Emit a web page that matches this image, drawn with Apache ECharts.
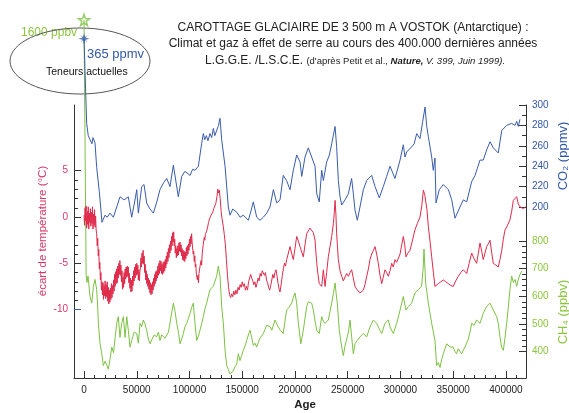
<!DOCTYPE html>
<html>
<head>
<meta charset="utf-8">
<script src="https://cdn.jsdelivr.net/npm/echarts@6/dist/echarts.min.js"></script>
<style>
  html, body { margin: 0; padding: 0; background: #fff; }
  #chart { width: 569px; height: 413px; }
</style>
</head>
<body>
<div id="chart"></div>
<script>
// Vostok ice core: age (years before present) vs temperature anomaly, CO2 and CH4

// Temperature anomaly (°C)
const temperature = [
  [0,0.2],[500,-0.9],[1000,1.0],[1500,-0.4],[2000,1.2],[2500,-1.2],[3000,0.6],[3500,-0.8],[4000,1.1],[4500,-1.3],
  [5000,0.4],[5500,-0.6],[6000,0.9],[6500,-1.0],[7000,0.5],[7500,-0.7],[8000,1.1],[8500,-1.3],[9000,0.3],[9500,-0.9],
  [10000,0.8],[10500,-1.1],[11000,0.1],[11500,-1.4],[12000,-1.8],[12500,-3.1],[13000,-2.3],[13500,-4.2],[14000,-3.5],[14500,-5.6],
  [15000,-4.9],[15500,-6.8],[16000,-6.0],[16500,-7.9],[17000,-7.0],[17500,-8.4],[18000,-7.1],[18500,-8.9],[19000,-7.4],[19500,-8.5],
  [20000,-6.9],[20500,-8.8],[21000,-7.3],[21500,-8.6],[22000,-7.0],[22500,-9.1],[23000,-7.6],[23500,-9.4],[24000,-7.9],[24500,-9.2],
  [25000,-7.7],[25500,-8.9],[26000,-7.2],[26500,-8.7],[27000,-7.4],[27500,-8.3],[28000,-6.8],[28500,-8.0],[29000,-6.2],[29500,-7.5],
  [30000,-5.9],[30500,-7.2],[31000,-5.6],[31500,-7.1],[32000,-5.3],[32500,-6.6],[33000,-5.0],[33500,-6.2],[34000,-4.7],[34500,-6.3],
  [35000,-5.2],[35500,-7.0],[36000,-5.8],[36500,-7.8],[37000,-6.5],[37500,-7.6],[38000,-6.0],[38500,-7.2],[39000,-5.6],[39500,-6.7],
  [40000,-5.4],[40500,-6.5],[41000,-5.3],[41500,-6.4],[42000,-5.4],[42500,-7.1],[43000,-6.1],[43500,-7.7],[44000,-6.6],[44500,-8.1],
  [45000,-6.8],[45500,-8.0],[46000,-6.4],[46500,-7.4],[47000,-5.8],[47500,-6.9],[48000,-5.4],[48500,-6.6],[49000,-5.1],[49500,-6.3],
  [50000,-5.0],[50500,-6.2],[51000,-5.2],[51500,-6.8],[52000,-5.7],[52500,-6.9],[53000,-5.9],[53500,-5.4],[54000,-4.4],[54500,-5.4],
  [55000,-3.9],[55500,-5.0],[56000,-3.6],[56500,-5.1],[57000,-4.2],[57500,-6.0],[58000,-5.1],[58500,-6.8],[59000,-5.8],[59500,-7.2],
  [60000,-6.2],[60500,-7.5],[61000,-6.6],[61500,-7.8],[62000,-6.8],[62500,-8.2],[63000,-7.1],[63500,-8.4],[64000,-7.3],[64500,-8.3],
  [65000,-7.0],[65500,-7.9],[66000,-6.6],[66500,-7.5],[67000,-6.2],[67500,-7.2],[68000,-5.9],[68500,-6.9],[69000,-5.8],[69500,-6.6],
  [70000,-5.3],[70500,-6.3],[71000,-5.0],[71500,-6.1],[72000,-4.7],[72500,-5.8],[73000,-4.8],[73500,-6.1],[74000,-5.1],[74500,-6.2],
  [75000,-4.9],[75500,-6.0],[76000,-4.8],[76500,-5.8],[77000,-4.6],[77500,-5.5],[78000,-4.2],[78500,-5.1],[79000,-3.8],[79500,-4.8],
  [80000,-3.4],[80500,-4.4],[81000,-3.0],[81500,-3.9],[82000,-2.6],[82500,-3.6],[83000,-2.1],[83500,-3.1],[84000,-1.7],[84500,-2.7],
  [85000,-1.6],[85500,-3.1],[86000,-2.4],[86500,-3.9],[87000,-3.1],[87500,-4.4],[88000,-3.4],[88500,-4.2],[89000,-3.1],[89500,-4.1],
  [90000,-2.8],[90500,-3.7],[91000,-2.7],[91500,-3.8],[92000,-3.0],[92500,-4.2],[93000,-3.4],[93500,-4.6],[94000,-3.6],[94500,-4.7],
  [95000,-3.7],[95500,-4.8],[96000,-3.8],[96500,-4.5],[97000,-3.3],[97500,-4.2],[98000,-3.1],[98500,-4.0],[99000,-2.9],[99500,-3.6],
  [100000,-2.4],[100500,-3.2],[101000,-2.1],[101500,-2.9],[102000,-1.8],[102500,-2.8],[103000,-2.8],[103500,-4.0],[104000,-3.7],[104500,-4.8],
  [105000,-4.2],[105500,-5.4],[106000,-5.1],[106500,-6.2],[107000,-6.0],[107500,-6.8],[108000,-6.3],[108500,-7.1],[109000,-6.1],[109500,-6.1],
  [110000,-5.3],[110500,-5.5],[111000,-4.7],[111500,-5.2],[112000,-4.0],[112500,-4.0],[113000,-3.0],[113500,-3.1],[114000,-2.2],[114500,-2.5],
  [115000,-1.9],[115500,-2.0],[116000,-1.6],[117000,-1.2],[118000,-0.6],[119000,-0.2],[120000,0.1],[121000,0.3],[122000,0.5],[123000,0.9],
  [124000,0.7],[125000,1.5],[126000,2.2],[126800,3.0],[127500,2.6],[128300,2.9],[129000,2.1],[130000,0.6],[131000,-0.3],[132000,-1.0],
  [133000,-1.9],[134000,-3.0],[135000,-4.6],[136000,-6.3],[137000,-7.6],[138000,-8.4],[139000,-8.7],[140000,-8.3],[141000,-8.6],[142000,-8.0],
  [143000,-8.4],[144000,-7.9],[145000,-8.3],[146000,-7.6],[147000,-7.9],[148000,-7.3],[149000,-7.6],[150000,-7.0],[151000,-7.5],[152000,-7.2],
  [153000,-7.9],[154000,-7.5],[155000,-7.9],[156000,-7.0],[157000,-6.6],[158000,-6.2],[159000,-6.6],[160000,-6.9],[161000,-7.3],[162000,-7.0],
  [163000,-7.6],[164000,-7.2],[165000,-6.6],[166000,-6.9],[167000,-6.1],[168000,-6.4],[169000,-5.8],[170000,-5.7],[171000,-6.3],[172000,-6.0],
  [173000,-6.8],[174000,-7.1],[175000,-7.6],[176000,-7.9],[177000,-7.4],[178000,-6.8],[179000,-6.2],[180000,-6.6],[181000,-6.0],[182000,-5.7],
  [183000,-6.4],[184000,-7.2],[185000,-7.8],[185800,-8.1],[187000,-7.2],[188000,-6.3],[189000,-5.6],[190000,-5.0],[191000,-5.3],[192100,-4.6],
  [193500,-4.0],[195300,-3.2],[196800,-3.9],[198400,-4.6],[200000,-3.4],[201600,-2.1],[203200,-2.6],[204800,-3.2],[206400,-3.8],[207900,-4.3],
  [209500,-3.0],[211100,-1.8],[212600,-1.5],[214200,-1.2],[215800,-1.0],[217400,-1.7],[219000,-2.5],[220600,-5.0],[221800,-6.2],[223000,-7.2],
  [224200,-7.0],[225300,-7.5],[226900,-5.7],[228500,-7.5],[230000,-6.0],[231600,-4.3],[233200,-3.2],[234800,-2.1],[236400,-0.7],[237300,0.5],
  [238000,1.8],[238800,0.3],[239500,-1.8],[240300,-3.2],[241100,-4.6],[242700,-5.8],[244300,-6.4],[245800,-6.9],[247400,-6.8],[249000,-6.1],
  [250600,-6.4],[252200,-6.0],[253700,-5.7],[255300,-6.6],[256900,-7.5],[258500,-7.8],[260000,-8.0],[261600,-8.2],[263200,-8.4],[264800,-7.9],
  [266400,-7.3],[268000,-6.4],[269600,-5.6],[271100,-4.6],[272700,-4.0],[274300,-3.6],[275900,-3.2],[277400,-4.0],[279000,-5.0],[280600,-6.3],
  [282200,-7.2],[283700,-6.5],[285300,-5.7],[286900,-6.0],[288500,-6.4],[290100,-5.8],[291700,-5.0],[293200,-5.4],[294800,-4.6],[296400,-4.9],
  [297900,-5.0],[299600,-4.0],[301200,-3.0],[302700,-2.1],[304000,-3.0],[305200,-4.3],[307000,-3.9],[309000,-3.6],[311200,-2.6],[313700,-1.4],
  [316000,-0.7],[318500,0.0],[320200,1.2],[321700,2.9],[323000,2.4],[323900,2.2],[325100,0.8],[326400,-1.0],[328000,-2.6],[329600,-4.3],
  [331200,-6.0],[332700,-7.5],[334300,-7.4],[335900,-7.2],[338200,-7.0],[340600,-6.8],[343000,-7.0],[345400,-7.2],[347700,-7.4],[350000,-7.5],
  [352400,-6.9],[354800,-6.4],[357200,-6.0],[359600,-5.7],[361200,-5.8],[362800,-6.1],[365100,-5.0],[367500,-3.9],[369800,-4.5],[372200,-5.0],
  [373800,-3.9],[375400,-2.8],[377000,-3.7],[378500,-4.6],[380100,-3.9],[381700,-3.2],[383300,-2.9],[384900,-2.5],[386400,-3.8],[388000,-5.0],
  [390400,-5.2],[392700,-5.4],[394300,-4.6],[396000,-3.6],[397500,-2.4],[399100,-1.4],[401500,-0.9],[403800,-0.3],[405400,0.6],[407000,1.8],
  [408600,1.6],[410200,2.2],[411700,1.4],[413300,1.1],[415000,1.3],[416600,0.9],[418500,1.1]
];

// CO2 (ppmv); first point is the present-day value
const co2 = [
  [0,365],[2500,282],[4000,270],[5700,266],[7500,262],[8500,268],[10400,263],[12000,239],[14500,215],[17000,185],
  [19900,192],[22000,190],[24600,194],[27800,190],[31000,200],[34100,210],[38000,207],[42000,210],[45200,190],[48000,205],
  [50000,217],[51500,194],[54700,220],[56900,222],[59400,204],[62500,198],[65700,194],[69000,205],[72000,217],[75500,224],
  [78400,228],[81500,220],[84700,241],[89400,210],[92600,230],[95700,235],[100500,231],[103000,237],[105200,236],[108400,240],
  [111500,262],[113100,272],[114500,266],[116000,270],[117500,265],[119400,272],[121000,268],[122600,277],[124000,270],[125800,269],
  [127500,280],[128900,287],[130500,266],[133700,240],[136800,200],[138400,192],[141000,198],[144700,195],[148000,190],[151000,192],
  [155800,187],[158000,195],[160500,205],[163700,190],[166800,187],[170000,190],[173200,194],[176300,200],[179500,217],[182700,204],
  [185800,207],[188900,231],[192000,226],[195300,217],[198400,236],[201600,251],[204800,244],[206400,230],[209500,249],[212600,258],
  [215800,249],[219000,240],[220600,213],[223000,205],[225300,236],[226900,226],[230000,244],[232600,251],[234800,262],[236400,262],
  [238000,279],[239500,259],[241100,226],[242700,210],[244300,202],[247400,207],[250600,213],[253700,228],[255300,213],[256900,197],
  [259100,187],[261600,200],[264800,217],[268000,226],[272700,231],[275900,220],[279900,209],[283700,220],[286900,230],[290100,240],
  [294800,228],[299600,246],[302700,261],[304300,249],[305900,254],[310600,259],[313000,262],[315400,272],[318500,267],[321100,284],
  [323300,298],[324900,279],[326400,269],[329600,249],[331100,236],[332700,248],[333700,204],[336800,217],[340600,222],[345400,217],
  [348600,207],[351700,189],[356400,200],[359600,207],[362800,205],[367500,225],[370700,231],[375400,246],[378500,246],[381700,256],
  [384900,264],[388000,258],[392700,253],[396000,275],[400700,280],[405400,282],[408600,280],[410200,284],[411700,279],[413300,286]
];

// CH4 (ppbv); first point is the present-day value
const ch4 = [
  [0,1600],[2000,680],[2800,650],[3800,673],[5700,599],[7300,575],[8900,636],[10400,661],[12000,624],[13000,560],
  [13600,502],[15200,429],[16800,392],[18300,349],[20000,365],[21500,352],[23000,336],[24600,370],[26300,416],[28000,395],
  [29500,450],[31000,502],[32500,526],[34100,451],[35700,502],[37300,526],[38900,451],[40500,526],[42000,477],[43600,416],
  [45200,440],[47500,470],[50000,465],[51500,430],[53100,502],[54600,490],[56200,514],[57800,500],[59400,477],[61000,445],
  [62600,428],[64500,445],[66500,460],[68900,453],[70500,470],[72000,440],[73600,460],[75200,465],[76800,448],[78400,453],
  [80000,470],[81500,502],[83100,540],[84700,575],[86300,545],[87900,502],[89500,470],[91000,428],[92600,445],[94100,465],
  [95700,490],[97300,502],[99000,520],[100500,538],[102100,560],[103600,575],[105200,502],[106800,440],[108400,455],[109900,477],
  [111500,500],[113100,526],[114700,555],[116300,575],[117800,600],[119400,624],[121000,630],[122600,636],[124200,655],[125800,673],
  [127300,709],[128900,673],[130500,563],[132100,502],[133700,404],[135300,349],[136800,335],[138400,318],[140000,312],[141500,330],
  [143100,345],[144700,355],[146300,392],[147800,367],[149400,385],[151000,404],[152600,420],[154200,440],[155800,460],[157400,477],
  [159000,450],[160500,422],[162100,430],[163700,416],[165200,432],[166800,448],[168400,455],[170000,465],[171600,480],[173200,495],
  [174800,502],[176400,490],[178000,477],[179500,495],[181100,514],[182700,500],[184200,489],[186000,477],[187400,470],[188900,465],
  [190500,510],[192100,550],[194400,560],[196800,575],[198400,595],[200000,612],[201600,575],[203200,502],[205500,428],[207900,477],
  [209500,520],[211100,563],[212600,580],[214200,587],[215800,575],[217400,550],[219000,510],[220600,477],[223000,465],[225300,526],
  [226900,510],[228500,502],[230000,508],[231600,514],[233200,545],[234800,575],[236400,610],[238000,648],[239000,610],[240100,575],
  [242000,477],[244300,416],[245800,385],[247400,420],[249000,416],[250600,470],[252200,514],[253700,453],[255300,392],[256900,428],
  [259100,440],[261600,453],[264800,465],[268000,453],[271100,489],[274300,514],[277400,502],[280600,477],[282200,465],[285300,502],
  [288500,514],[290100,489],[293200,465],[296400,502],[298000,525],[299600,550],[302700,599],[305200,550],[307500,563],[310600,575],
  [313700,612],[316900,624],[320000,636],[321500,700],[322300,771],[323200,700],[323900,648],[326400,575],[329600,502],[332700,440],
  [334300,349],[335900,360],[337500,342],[339000,370],[340600,392],[342200,410],[343800,428],[346900,416],[350000,416],[351600,400],
  [353200,392],[354800,410],[356400,400],[358000,392],[359600,405],[361100,416],[362700,430],[364300,445],[365900,470],[367500,502],
  [369800,495],[372200,514],[375400,502],[378500,538],[381700,563],[384900,575],[388000,550],[391200,526],[392700,502],[394300,453],
  [395900,416],[397500,404],[399100,450],[400700,502],[402300,563],[403800,624],[405400,673],[407000,650],[408600,661],[410200,636],
  [411700,661],[413300,679],[414900,691]
];

// Present-day concentrations marked by stars
const presentCH4 = [[0, 1600]];
const presentCO2 = [[0, 365]];

// Axis ticks
const ageMajorTicks = [0, 50000, 100000, 150000, 200000, 250000, 300000, 350000, 400000];
const ageMinorTicks = [10000,20000,30000,40000,60000,70000,80000,90000,110000,120000,130000,140000,160000,170000,180000,190000,
  210000,220000,230000,240000,260000,270000,280000,290000,310000,320000,330000,340000,360000,370000,380000,390000,410000];
const tempMajorTicks = [-5, 0, 5];
const tempLabelTicks = [-10, -5, 0, 5];
const tempMinorTicks = [-9, -8, -7, -6, -4, -3, -2, -1, 1, 2, 3, 4];
const co2MajorTicks = [200, 220, 240, 260, 280, 300];
const co2MinorTicks = [210, 230, 250, 270, 290];
const ch4MajorTicks = [400, 500, 600, 700, 800];
const ch4MinorTicks = [420,440,460,480,520,540,560,580,620,640,660,680,720,740,760,780];

const FONT = 'Liberation Sans, Arial, Helvetica, sans-serif';
const RED = '#e02a4a', RED_TEXT = '#d7386a';
const BLUE = '#3a5cab', BLUE_TEXT = '#3358a8';
const GREEN = '#7dc142', GREEN_TEXT = '#8cc63f';
const AXIS = '#333';

const AGE_MIN = -9500, AGE_MAX = 419000;
const T_MIN = -17.39, T_MAX = 12.1;
const CO2_MIN = 32.4, CO2_MAX = 300;
const CH4_MIN = 304.1, CH4_MAX = 1292.3;

const starPath = 'path://M0,-10 L2.35,-3.24 L9.51,-3.09 L3.8,1.24 L5.88,8.09 L0,4 L-5.88,8.09 L-3.8,1.24 L-9.51,-3.09 L-2.35,-3.24 Z';
const burstPath = 'path://M0,-10 L2,-3 L7,-7 L3,-2 L10,0 L3,2 L7,7 L2,3 L0,10 L-2,3 L-7,7 L-3,2 L-10,0 L-3,-2 L-7,-7 L-2,-3 Z';

function xAxisDef(ticks, len, labels, showLine) {
  return {
    type: 'value', position: 'bottom', min: AGE_MIN, max: AGE_MAX,
    axisLine: { show: showLine, onZero: false, lineStyle: { color: AXIS, width: 1 } },
    axisTick: { show: true, inside: true, length: len, customValues: ticks, lineStyle: { color: AXIS } },
    axisLabel: labels ? { show: true, customValues: ticks, formatter: v => String(v), color: '#222',
      fontSize: 10, fontFamily: FONT, margin: 7 } : { show: false },
    splitLine: { show: false }
  };
}
function yAxisDef(pos, min, max, ticks, len, labels, labelColor, showLine, tickColor) {
  return {
    type: 'value', position: pos, min: min, max: max,
    axisLine: { show: showLine, onZero: false, lineStyle: { color: AXIS, width: 1 } },
    axisTick: { show: true, inside: true, length: len, customValues: ticks, lineStyle: { color: tickColor || AXIS } },
    axisLabel: labels ? { show: true, customValues: labels, formatter: v => String(v), color: labelColor,
      fontSize: 10, fontFamily: FONT, margin: 6 } : { show: false },
    splitLine: { show: false }
  };
}

const chart = echarts.init(document.getElementById('chart'), null, { renderer: 'canvas' });
chart.setOption({
  animation: false,
  backgroundColor: '#fff',
  grid: { left: 74, right: 43, top: 105, bottom: 35, containLabel: false },
  xAxis: [
    xAxisDef(ageMajorTicks, 7, true, true),
    xAxisDef(ageMinorTicks, 3, false, false)
  ],
  yAxis: [
    yAxisDef('left', T_MIN, T_MAX, tempMajorTicks, 7, tempLabelTicks, RED_TEXT, true),
    yAxisDef('left', T_MIN, T_MAX, tempMinorTicks, 4, null, null, false),
    yAxisDef('left', T_MIN, T_MAX, [-10], 7, null, null, false, BLUE),
    yAxisDef('right', CO2_MIN, CO2_MAX, co2MajorTicks, 7, co2MajorTicks, BLUE_TEXT, true),
    yAxisDef('right', CO2_MIN, CO2_MAX, co2MinorTicks, 4, null, null, false),
    yAxisDef('right', CH4_MIN, CH4_MAX, ch4MajorTicks, 7, ch4MajorTicks, GREEN_TEXT, false),
    yAxisDef('right', CH4_MIN, CH4_MAX, ch4MinorTicks, 4, null, null, false)
  ],
  series: [
    { type: 'line', name: 'CH4', data: ch4, xAxisIndex: 0, yAxisIndex: 5, showSymbol: false, clip: false,
      lineStyle: { color: GREEN, width: 1 }, itemStyle: { color: GREEN }, z: 2 },
    { type: 'line', name: 'CO2', data: co2, xAxisIndex: 0, yAxisIndex: 3, showSymbol: false, clip: false,
      lineStyle: { color: BLUE, width: 1 }, itemStyle: { color: BLUE }, z: 3 },
    { type: 'line', name: 'Temperature', data: temperature, xAxisIndex: 0, yAxisIndex: 0, showSymbol: false, clip: false,
      lineStyle: { color: RED, width: 1 }, itemStyle: { color: RED }, z: 4 },
    { type: 'scatter', data: presentCH4, xAxisIndex: 0, yAxisIndex: 5, clip: false, symbol: starPath, symbolSize: 11,
      itemStyle: { color: 'rgba(255,255,255,0)', borderColor: GREEN, borderWidth: 1.5 }, z: 5 },
    { type: 'scatter', data: presentCO2, xAxisIndex: 0, yAxisIndex: 3, clip: false, symbol: burstPath, symbolSize: 11,
      itemStyle: { color: BLUE }, z: 5 }
  ],
  graphic: [
    { type: 'ellipse', shape: { cx: 80, cy: 61, rx: 70, ry: 33 }, style: { fill: 'none', stroke: '#555', lineWidth: 1 }, z: 1 },
    { type: 'text', x: 21, y: 33, style: { text: '1600 ppbv', fill: GREEN_TEXT, font: '12px ' + FONT, verticalAlign: 'middle' } },
    { type: 'text', x: 87, y: 54, style: { text: '365 ppmv', fill: BLUE_TEXT, font: '13px ' + FONT, verticalAlign: 'middle' } },
    { type: 'text', x: 46, y: 72, style: { text: 'Teneurs actuelles', fill: '#111', font: '10.5px ' + FONT, verticalAlign: 'middle' } },
    { type: 'text', x: 353, y: 28, style: { text: 'CAROTTAGE GLACIAIRE DE 3 500 m A VOSTOK (Antarctique) :', fill: '#222',
      font: '12px ' + FONT, align: 'center', verticalAlign: 'middle' } },
    { type: 'text', x: 353, y: 44, style: { text: 'Climat et gaz à effet de serre au cours des 400.000 dernières années', fill: '#222',
      font: '12px ' + FONT, align: 'center', verticalAlign: 'middle' } },
    { type: 'text', x: 355, y: 61, style: {
      text: '{a|L.G.G.E. /L.S.C.E. }{b|(d\'après Petit et al., }{c|Nature,}{d| V. 399, Juin 1999)}{b|.}',
      align: 'center', verticalAlign: 'middle', fill: '#222',
      rich: {
        a: { fontSize: 12, fontFamily: FONT, fill: '#222' },
        b: { fontSize: 9.5, fontFamily: FONT, fill: '#222' },
        c: { fontSize: 9.5, fontFamily: FONT, fontStyle: 'italic', fontWeight: 'bold', fill: '#222' },
        d: { fontSize: 9.5, fontFamily: FONT, fontStyle: 'italic', fill: '#222' }
      } } },
    { type: 'text', x: 43, y: 231, rotation: Math.PI / 2, style: { text: 'écart de température (°C)', fill: RED_TEXT,
      font: '11.5px ' + FONT, align: 'center', verticalAlign: 'middle' } },
    { type: 'text', x: 563, y: 156, rotation: Math.PI / 2, style: { text: 'CO₂ (ppmv)', fill: BLUE_TEXT,
      font: '13px ' + FONT, align: 'center', verticalAlign: 'middle' } },
    { type: 'text', x: 563, y: 312, rotation: Math.PI / 2, style: { text: 'CH₄ (ppbv)', fill: GREEN_TEXT,
      font: '13px ' + FONT, align: 'center', verticalAlign: 'middle' } },
    { type: 'text', x: 305, y: 405, style: { text: 'Age', fill: '#222', font: 'bold 11.5px ' + FONT,
      align: 'center', verticalAlign: 'middle' } }
  ]
});
</script>
</body>
</html>
